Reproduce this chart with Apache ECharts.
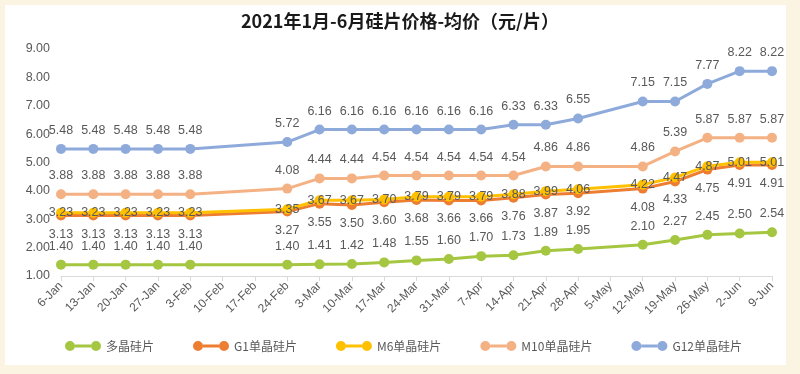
<!DOCTYPE html>
<html>
<head>
<meta charset="utf-8">
<script src="https://cdn.jsdelivr.net/npm/echarts@6/dist/echarts.min.js"></script>
<style>
html,body{margin:0;padding:0;background:#fcf4e2;}
#c{width:800px;height:374px;}
</style>
</head>
<body>
<div id="c"></div>
<script>
const categories = ['6-Jan','13-Jan','20-Jan','27-Jan','3-Feb','10-Feb','17-Feb','24-Feb','3-Mar','10-Mar','17-Mar','24-Mar','31-Mar','7-Apr','14-Apr','21-Apr','28-Apr','5-May','12-May','19-May','26-May','2-Jun','9-Jun'];
const seriesNames = ['多晶硅片','G1单晶硅片','M6单晶硅片','M10单晶硅片','G12单晶硅片'];
const poly = [1.40,1.40,1.40,1.40,1.40,null,null,1.40,1.41,1.42,1.48,1.55,1.60,1.70,1.73,1.89,1.95,null,2.10,2.27,2.45,2.50,2.54];
const g1   = [3.13,3.13,3.13,3.13,3.13,null,null,3.27,3.55,3.50,3.60,3.68,3.66,3.66,3.76,3.87,3.92,null,4.08,4.33,4.75,4.91,4.91];
const m6   = [3.23,3.23,3.23,3.23,3.23,null,null,3.35,3.67,3.67,3.70,3.79,3.79,3.79,3.88,3.99,4.06,null,4.22,4.47,4.87,5.01,5.01];
const m10  = [3.88,3.88,3.88,3.88,3.88,null,null,4.08,4.44,4.44,4.54,4.54,4.54,4.54,4.54,4.86,4.86,null,4.86,5.39,5.87,5.87,5.87];
const g12  = [5.48,5.48,5.48,5.48,5.48,null,null,5.72,6.16,6.16,6.16,6.16,6.16,6.16,6.33,6.33,6.55,null,7.15,7.15,7.77,8.22,8.22];
const yTicks = {min:1, max:9, interval:1};

const colors = ['#a5c640','#ed7d31','#ffc000','#f4b183','#8eaadb'];
const labelPos = ['top','bottom','inside','top','top'];
const dataSets = [poly,g1,m6,m10,g12];
const numFont = 'Liberation Sans';
const cjkFont = 'Noto Sans CJK SC';
const legendIcon = 'path://M0,5A5,5 0 1,1 10,5A5,5 0 1,1 0,5Z M10,3.5H26V6.5H10Z M26,5A5,5 0 1,1 36,5A5,5 0 1,1 26,5Z';

const chart = echarts.init(document.getElementById('c'), null, {renderer:'canvas'});
chart.setOption({
  backgroundColor:'#fcf4e2',
  animation:false,
  graphic:[{type:'rect', z:-100, silent:true, shape:{x:5,y:5,width:781,height:360}, style:{fill:'#ffffff'}}],
  title:{
    text:'2021年1月-6月硅片价格-均价（元/片）',
    left:'center', top:12, padding:0,
    textStyle:{fontFamily:cjkFont, fontSize:18, fontWeight:'bold', color:'#1a1a1a'}
  },
  grid:{left:61, right:28, top:49, bottom:98, containLabel:false},
  legend:{
    data:seriesNames, left:60, top:335, itemGap:39,
    itemWidth:36, itemHeight:10, icon:legendIcon,
    textStyle:{fontFamily:cjkFont, fontSize:12, color:'#595959'}
  },
  xAxis:{
    type:'category', data:categories, boundaryGap:false,
    axisLine:{lineStyle:{color:'#d9d9d9', width:1}},
    axisTick:{show:true, length:5, lineStyle:{color:'#d9d9d9'}},
    axisLabel:{rotate:45, interval:0, margin:8, fontFamily:numFont, fontSize:12, color:'#595959'},
    splitLine:{show:false}
  },
  yAxis:{
    type:'value', min:yTicks.min, max:yTicks.max, interval:yTicks.interval,
    axisLine:{show:false}, axisTick:{show:false}, splitLine:{show:false},
    axisLabel:{margin:11, fontFamily:numFont, fontSize:12.5, color:'#595959', formatter:v=>v.toFixed(2)}
  },
  series: seriesNames.map((n,i)=>({
    name:n, type:'line', data:dataSets[i], connectNulls:true,
    symbol:'circle', symbolSize:10,
    lineStyle:{color:colors[i], width:3},
    itemStyle:{color:colors[i]},
    label:{show:true, position:labelPos[i], distance:7, fontFamily:numFont, fontSize:12.5, color:'#595959',
      formatter:p=>p.value==null?'':Number(p.value).toFixed(2)}
  }))
});
</script>
</body>
</html>
